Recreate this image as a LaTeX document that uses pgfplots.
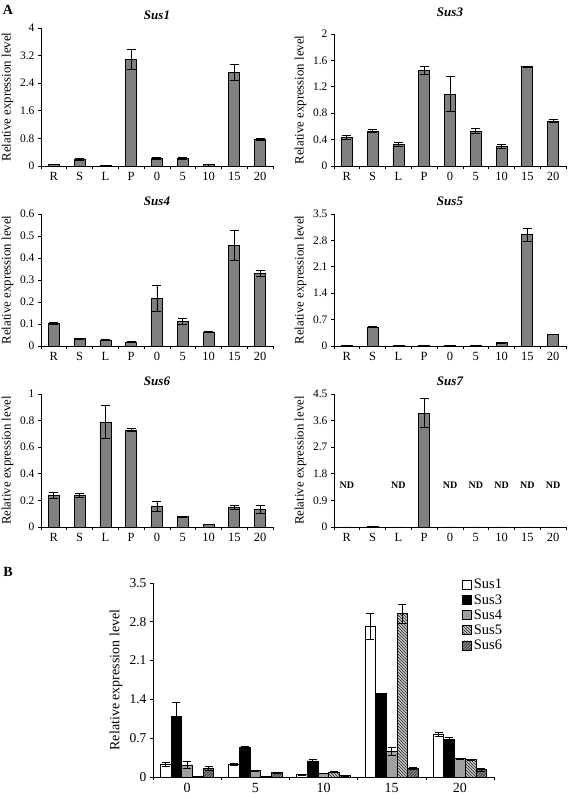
\documentclass[border=0pt]{standalone}
\usepackage{fontspec}
\setmainfont{Liberation Serif}
\usepackage{pgfplots}
\pgfplotsset{compat=1.18}
\usetikzlibrary{patterns}
\definecolor{barg}{HTML}{808080}
\definecolor{lg}{HTML}{A0A0A0}
\definecolor{dg}{HTML}{4A4A4A}
\tikzset{nd/.style={font=\fontsize{10}{12}\selectfont\bfseries}}
\pgfplotsset{
 base/.style={scale only axis, axis x line*=bottom, axis y line*=left, ymin=0,
  tick align=outside, major tick length=3pt, minor tick length=3pt,
  every tick/.style={black, line width=0.6pt},
  axis line style={line width=0.6pt},
  /pgf/number format/assume math mode=true,
  tick label style={font=\fontsize{11.5}{13}\selectfont},
  xticklabel style={font=\fontsize{12.5}{14}\selectfont},
  ylabel={Relative expression level},
  every axis y label/.style={at={(axis description cs:0,0.5)}, xshift=-33.5pt, rotate=90, anchor=center, font=\fontsize{12.8}{14}\selectfont},
  title style={at={(0.5,1)}, anchor=south, inner sep=0pt, yshift=2pt, font=\fontsize{13}{15}\selectfont\bfseries\itshape},
  major x tick style={draw=none},
  clip=false,
  error bars/y dir=both, error bars/y explicit,
  error bars/error bar style={line width=0.8pt, black},
  error bars/error mark options={rotate=90, mark size=4.5pt, line width=0.8pt, black},
 },
 panel/.style={base, ybar, bar width=11pt, width=232pt, height=132pt, xmin=-0.5, xmax=8.5,
  xtick={0,...,8}, xticklabels={R,S,L,P,0,5,10,15,20}, minor xtick={-0.5,0.5,...,8.5}},
 bars/.style={fill=barg, draw=black, line width=0.8pt},
}
\begin{document}
\begin{tikzpicture}[x=1pt,y=1pt]
\path[use as bounding box] (0,0) rectangle (567,799);
\node[font=\fontsize{14}{16}\selectfont\bfseries] at (8,789) {A};
\node[font=\fontsize{14}{16}\selectfont\bfseries] at (8,227) {B};

% Sus1
\begin{axis}[panel, at={(41pt,633pt)}, anchor=south west, height=138pt, ymax=4,
  ytick={0,0.8,1.6,2.4,3.2,4}, yticklabels={0,0.8,1.6,2.4,3.2,4}, title={Sus1}]
\addplot[bars] table[x=x,y=y,y error=e] {
x y e
0 0.05 0.005
1 0.19 0.04
2 0.02 0.003
3 3.10 0.29
4 0.23 0.03
5 0.23 0.03
6 0.04 0.005
7 2.72 0.23
8 0.77 0.04
};
\end{axis}

% Sus3
\begin{axis}[panel, at={(334pt,633pt)}, anchor=south west, ymax=2,
  ytick={0,0.4,0.8,1.2,1.6,2}, yticklabels={0,0.4,0.8,1.2,1.6,2}, title={Sus3}, title style={yshift=9pt}]
\addplot[bars] table[x=x,y=y,y error=e] {
x y e
0 0.43 0.03
1 0.53 0.02
2 0.32 0.03
3 1.45 0.06
4 1.09 0.26
5 0.53 0.04
6 0.29 0.03
7 1.505 0.01
8 0.68 0.02
};
\end{axis}

% Sus4
\begin{axis}[panel, at={(41pt,453pt)}, anchor=south west, ymax=0.6,
  ytick={0,0.1,0.2,0.3,0.4,0.5,0.6}, yticklabels={0,0.1,0.2,0.3,0.4,0.5,0.6}, title={Sus4}]
\addplot[bars] table[x=x,y=y,y error=e] {
x y e
0 0.103 0.003
1 0.033 0.003
2 0.027 0.002
3 0.017 0.002
4 0.217 0.06
5 0.111 0.015
6 0.064 0.003
7 0.457 0.07
8 0.331 0.013
};
\end{axis}

% Sus5
\begin{axis}[panel, at={(334pt,453pt)}, anchor=south west, ymax=3.5,
  ytick={0,0.7,1.4,2.1,2.8,3.5}, yticklabels={0,0.7,1.4,2.1,2.8,3.5}, title={Sus5}]
\addplot[bars] table[x=x,y=y,y error=e] {
x y e
0 0.02 0.003
1 0.50 0.02
2 0.01 0.002
3 0.02 0.003
4 0.01 0.002
5 0.01 0.002
6 0.09 0.01
7 2.95 0.17
8 0.31 0.01
};
\end{axis}

% Sus6
\begin{axis}[panel, at={(41pt,272pt)}, anchor=south west, height=133pt, ymax=1,
  ytick={0,0.2,0.4,0.6,0.8,1}, yticklabels={0,0.2,0.4,0.6,0.8,1}, title={Sus6}]
\addplot[bars] table[x=x,y=y,y error=e] {
x y e
0 0.237 0.02
1 0.237 0.015
2 0.79 0.125
3 0.73 0.013
4 0.154 0.04
5 0.076 0.005
6 0.02 0.003
7 0.151 0.015
8 0.131 0.03
};
\end{axis}

% Sus7
\begin{axis}[panel, at={(334pt,272pt)}, anchor=south west, height=133pt, ymax=4.5,
  ytick={0,0.9,1.8,2.7,3.6,4.5}, yticklabels={0,0.9,1.8,2.7,3.6,4.5}, title={Sus7}]
\addplot[bars] table[x=x,y=y,y error=e] {
x y e
0 0 0
1 0.03 0.005
2 0 0
3 3.85 0.49
4 0 0
5 0 0
6 0 0
7 0 0
8 0 0
};
\node[nd] at (axis cs:0,1.42) {ND};
\node[nd] at (axis cs:2,1.42) {ND};
\node[nd] at (axis cs:4,1.42) {ND};
\node[nd] at (axis cs:5,1.42) {ND};
\node[nd] at (axis cs:6,1.42) {ND};
\node[nd] at (axis cs:7,1.42) {ND};
\node[nd] at (axis cs:8,1.42) {ND};
\end{axis}

% Panel B
\begin{axis}[base, at={(153pt,22pt)}, anchor=south west, width=341pt, height=194pt,
  ybar=0pt, bar width=10.7pt, xmin=-0.5, xmax=4.5, ymax=3.5,
  xtick={0,...,4}, xticklabels={0,5,10,15,20}, minor xtick={-0.5,0.5,...,4.5},
  ytick={0,0.7,1.4,2.1,2.8,3.5}, yticklabels={0,0.7,1.4,2.1,2.8,3.5},
  tick label style={font=\fontsize{13.5}{15}\selectfont},
  xticklabel style={font=\fontsize{14}{16}\selectfont},
  every axis y label/.style={at={(axis description cs:0,0.5)}, xshift=-37pt, rotate=90, anchor=center, font=\fontsize{14}{16}\selectfont},
  legend style={at={(1.03,1.03)}, anchor=north east, draw=none, fill=none, inner sep=0pt,
    font=\fontsize{14.5}{16}\selectfont, row sep=0pt, /tikz/every even column/.append style={column sep=1pt}},
  legend cell align=left,
  legend image code/.code={\draw[#1, line width=0.6pt] (0pt,-4.5pt) rectangle (9pt,4.5pt);},
  error bars/error mark options={rotate=90, mark size=4pt, line width=0.8pt, black}]
\addplot[fill=white, draw=black, line width=0.8pt] table[x=x,y=y,y error=e] {
x y e
0 0.23 0.03
1 0.23 0.02
2 0.04 0.005
3 2.72 0.23
4 0.77 0.04
};
\addlegendentry{Sus1}
\addplot[fill=black, draw=black, line width=0.8pt] table[x=x,y=y,y error=e] {
x y e
0 1.09 0.26
1 0.53 0.02
2 0.29 0.03
3 1.505 0.01
4 0.68 0.03
};
\addlegendentry{Sus3}
\addplot[fill=lg, draw=black, line width=0.8pt] table[x=x,y=y,y error=e] {
x y e
0 0.217 0.06
1 0.111 0.015
2 0.064 0.003
3 0.457 0.07
4 0.331 0.013
};
\addlegendentry{Sus4}
\addplot[fill=gray!45, draw=black, line width=0.8pt, postaction={pattern=north west lines, pattern color=black!85}] table[x=x,y=y,y error=e] {
x y e
0 0.01 0.002
1 0.01 0.002
2 0.09 0.01
3 2.95 0.17
4 0.31 0.01
};
\addlegendentry{Sus5}
\addplot[fill=dg, draw=black, line width=0.8pt, postaction={pattern=north east lines, pattern color=gray!70}] table[x=x,y=y,y error=e] {
x y e
0 0.154 0.04
1 0.076 0.005
2 0.02 0.003
3 0.151 0.015
4 0.131 0.03
};
\addlegendentry{Sus6}
\end{axis}
\end{tikzpicture}
\end{document}
